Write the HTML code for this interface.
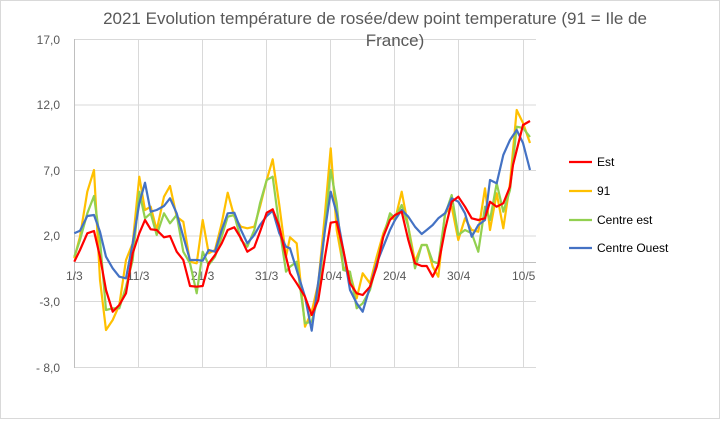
<!DOCTYPE html>
<html><head><meta charset="utf-8"><style>
html,body{margin:0;padding:0;background:#fff;}
svg text{font-family:"Liberation Sans",Arial,sans-serif;fill:#595959;}
</style></head><body>
<svg id="c" width="720" height="419" viewBox="0 0 720 419" xmlns="http://www.w3.org/2000/svg">
<rect x="0.5" y="0.5" width="719" height="418" fill="#fff" stroke="#d9d9d9"/>
<g stroke="#d9d9d9" stroke-width="1">
<line x1="74" y1="39.5" x2="536" y2="39.5"/>
<line x1="74" y1="105" x2="536" y2="105"/>
<line x1="74" y1="170.5" x2="536" y2="170.5"/>
<line x1="74" y1="236" x2="536" y2="236"/>
<line x1="74" y1="301.5" x2="536" y2="301.5"/>
<line x1="74" y1="367.5" x2="536" y2="367.5"/>
<line x1="138.5" y1="39" x2="138.5" y2="368"/>
<line x1="202.5" y1="39" x2="202.5" y2="368"/>
<line x1="266.5" y1="39" x2="266.5" y2="368"/>
<line x1="330.5" y1="39" x2="330.5" y2="368"/>
<line x1="394.5" y1="39" x2="394.5" y2="368"/>
<line x1="458.5" y1="39" x2="458.5" y2="368"/>
<line x1="523.5" y1="39" x2="523.5" y2="368"/>
</g>
<line x1="74.5" y1="39" x2="74.5" y2="368" stroke="#bfbfbf"/>
<line x1="74" y1="262.5" x2="536" y2="262.5" stroke="#bfbfbf"/>
<g font-size="12" text-anchor="end">
<text x="60" y="44">17,0</text>
<text x="60" y="109">12,0</text>
<text x="60" y="175">7,0</text>
<text x="60" y="240">2,0</text>
<text x="60" y="306">-3,0</text>
<text x="60" y="372">- 8,0</text>
</g>
<g font-size="12">
<text x="66" y="280">1/3</text>
<text x="127" y="280">11/3</text>
<text x="191" y="280">21/3</text>
<text x="255" y="280">31/3</text>
<text x="319" y="280">10/4</text>
<text x="383" y="280">20/4</text>
<text x="447" y="280">30/4</text>
<text x="512" y="280">10/5</text>
</g>
<text x="375" y="24" font-size="17" text-anchor="middle">2021 Evolution température de rosée/dew point temperature (91 = Ile de</text>
<text x="395" y="46" font-size="17" text-anchor="middle">France)</text>
<g id="series" fill="none" stroke-width="2.2" stroke-linejoin="round"></g>
<g font-size="12" fill="#000">
<line x1="569" y1="162" x2="592" y2="162" stroke="#ff0000" stroke-width="2.2"/>
<text x="597" y="166" style="fill:#000">Est</text>
<line x1="569" y1="191" x2="592" y2="191" stroke="#ffc000" stroke-width="2.2"/>
<text x="597" y="195" style="fill:#000">91</text>
<line x1="569" y1="220" x2="592" y2="220" stroke="#92d050" stroke-width="2.2"/>
<text x="597" y="224" style="fill:#000">Centre est</text>
<line x1="569" y1="248" x2="592" y2="248" stroke="#4472c4" stroke-width="2.2"/>
<text x="597" y="252" style="fill:#000">Centre Ouest</text>
</g>
</svg>
<script>
function conv(a,ox,oy,maxx){var r=[];for(var i=0;i<a.length;i+=2){if(maxx!==undefined&&a[i]>maxx)continue;r.push([ox+a[i]/3,oy+a[i+1]/3]);}return r;}
var S=[
{c:"#ffc000",z1:[43,385,60,320,82,185,102,120,120,450,138,600,158,570,178,525,198,390,218,340,238,140,255,240,272,230,290,300,312,200,330,168,350,260,370,275,390,395,410,400,428,270,446,370,465,360,485,280,503,188,523,260,543,290,562,295,583,290,600,230,620,150,638,88,658,225,678,380],
z2:[0,322,20,340,45,590,65,545,85,460,105,250,122,55,140,300,160,410,180,430,200,505,218,430,240,460,260,380,280,310,300,260,315,270,335,185,355,290,375,395,395,345,410,345,428,410,445,440,465,250,485,230,505,330,525,265,545,300,565,305,585,175,600,300,620,190,640,295,660,160],t:[[516.7,110],[523,123],[530,143]]},
{c:"#92d050",z1:[43,380,60,330,82,250,102,198,120,330,138,540,158,535,178,535,198,470,218,390,238,185,255,265,272,250,290,315,312,250,330,280,350,255,370,365,390,400,410,490,428,365,446,405,465,380,485,320,503,260,523,255,543,330,562,350,583,300,600,220,620,150,638,140,658,290,678,425],
z2:[0,410,20,395,45,580,65,575,85,500,105,290,122,120,140,220,160,420,180,425,200,535,218,520,240,480,260,400,280,320,300,250,315,265,335,225,355,290,375,415,395,345,410,345,428,395,445,400,465,255,485,195,505,315,525,300,545,310,565,365,585,230,600,270,620,160,640,245,660,180],t:[[516.7,126.7],[523,128],[530,137]]},
{c:"#4472c4",z1:[43,310,60,302,82,258,102,255,120,305,138,380,158,415,178,440,198,445,218,340,238,220,255,158,272,245,290,240,312,228,330,205,350,250,370,320,390,390,410,390,428,392,446,360,465,365,485,300,503,250,523,248,543,300,562,340,583,315,600,285,620,258,638,242,658,310,678,350],
z2:[0,355,20,420,45,500,65,602,85,455,105,300,122,185,140,250,160,360,180,480,200,520,218,545,240,470,260,400,280,350,300,300,315,270,335,240,355,260,375,290,395,312,410,300,428,285,445,265,465,250,485,205,505,215,525,250,545,320,565,285,585,270,600,150,620,160,640,75],t:[[510,140],[516.7,130],[523,143],[530,170]]},
{c:"#ff0000",z1:[43,395,60,360,82,310,102,303,120,380,138,480,158,545,178,525,198,490,218,370,238,310,255,270,272,298,290,300,312,322,330,318,350,365,370,390,390,468,410,470,428,468,446,400,465,375,485,340,503,300,523,292,543,325,562,365,583,352,600,305,620,248,638,238,658,290,678,380],
z2:[0,430,20,460,45,500,65,555,85,510,105,380,122,278,140,275,160,360,180,460,200,490,218,495,240,470,260,410,280,320,300,270,315,255,335,245,355,330,375,400,395,408,410,408,428,440,445,405,465,300,485,215,505,200,525,230,545,265,565,270,585,265,600,215,620,230,640,220,660,170],t:[[513,165],[523,125],[530,121]]}
];
var g=document.getElementById("series");
S.forEach(function(s){var p=conv(s.z1,60,130,690).concat(conv(s.z2,290,130)).concat(s.t);
var pl=document.createElementNS("http://www.w3.org/2000/svg","polyline");
pl.setAttribute("points",p.map(function(q){return q[0].toFixed(1)+","+q[1].toFixed(1);}).join(" "));
pl.setAttribute("stroke",s.c);g.appendChild(pl);});
</script>
</body></html>
